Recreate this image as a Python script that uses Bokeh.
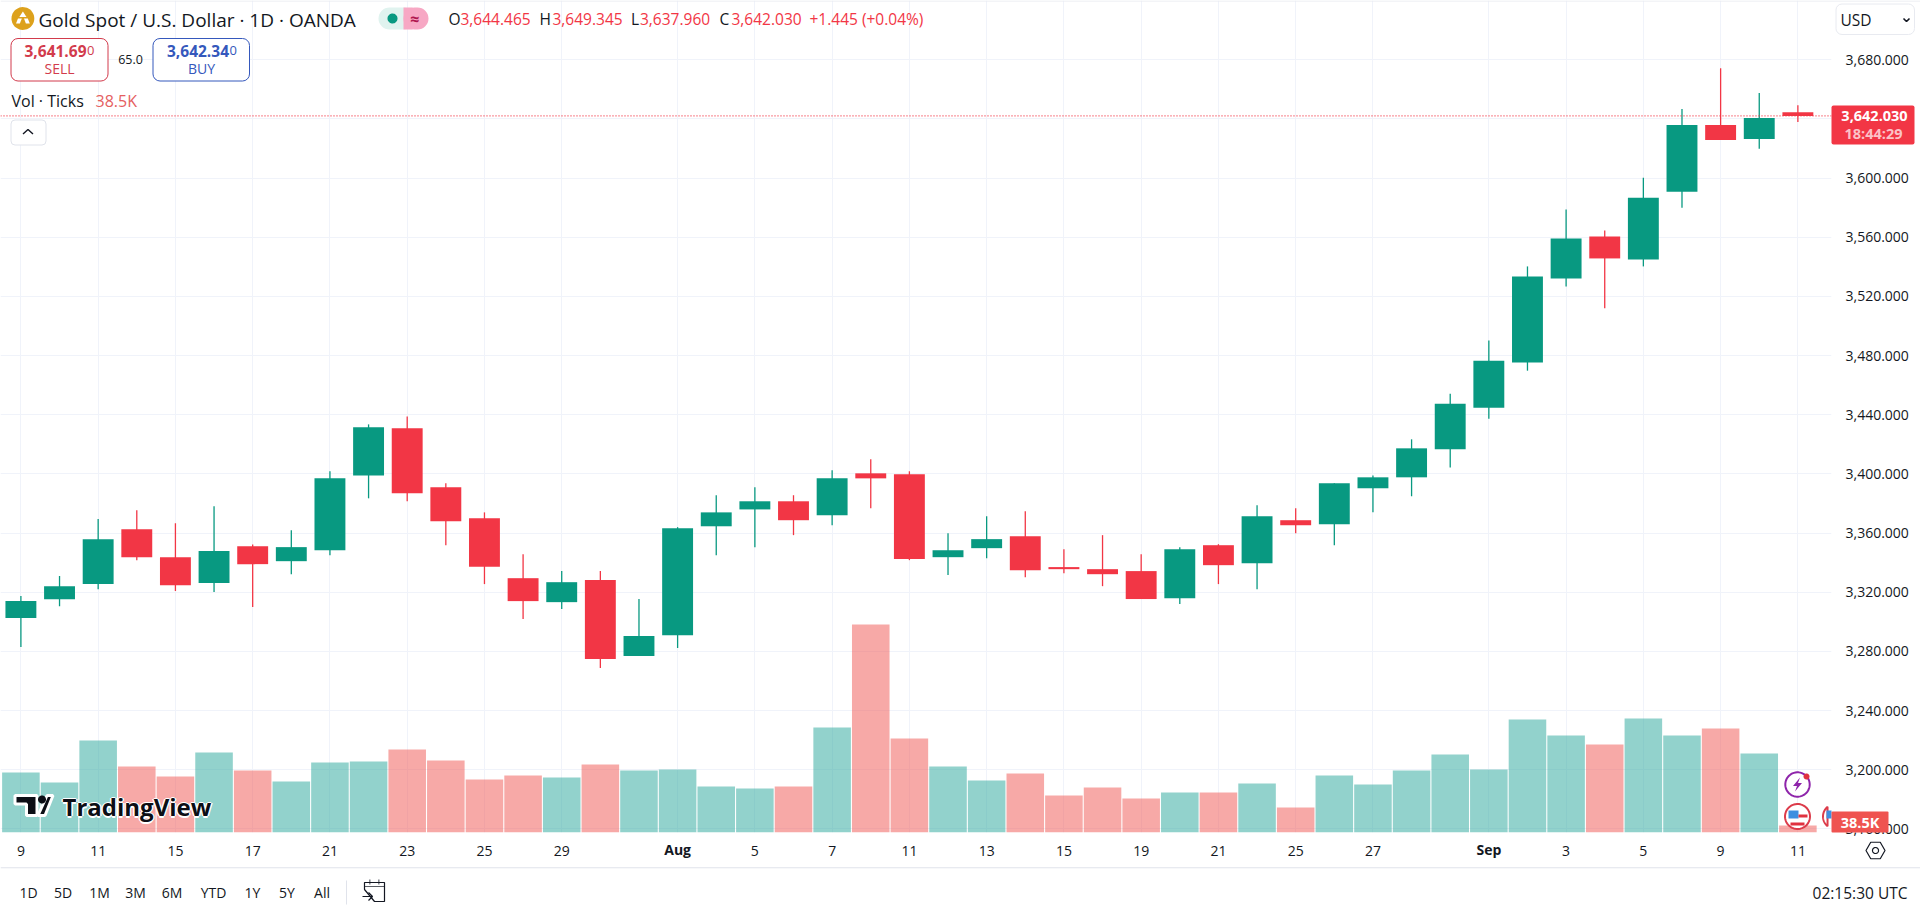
import numpy as np
from bokeh.embed import file_html
from bokeh.resources import INLINE
from bokeh.plotting import figure
from bokeh.layouts import column
from bokeh.models import (ColumnDataSource, Range1d, FixedTicker, NumeralTickFormatter,
                          Span, Label, BoxAnnotation, PolyAnnotation)

# ---------- data ----------
opens = [3302.5,3315.3,3325.5,3362.6,3343.7,3326.2,3351.1,3341.0,3348.4,3399.0,3430.8,3391.0,3370.0,3329.5,3313.3,3328.2,
         3276.9,3291.0,3364.6,3376.0,3381.5,3372.0,3400.4,3399.7,3343.7,3349.8,3357.9,3337.0,3335.6,3334.3,3316.0,3351.8,
         3339.6,3368.7,3366.0,3390.3,3397.7,3416.6,3444.7,3475.3,3532.2,3560.5,3545.0,3590.8,3635.9,3626.5,3644.465]
highs = [3317.4,3330.9,3369.6,3375.4,3366.6,3378.1,3352.3,3361.9,3401.8,3433.5,3438.9,3393.7,3374.0,3345.7,3334.3,3334.3,
         3315.4,3364.0,3385.6,3391.0,3385.6,3402.4,3409.9,3401.8,3359.9,3371.4,3374.8,3349.1,3358.6,3345.7,3350.5,3352.5,
         3378.8,3376.8,3393.7,3399.0,3423.4,3454.2,3490.2,3540.3,3578.7,3564.5,3600.2,3646.7,3674.3,3657.5,3649.345]
lows = [3283.0,3310.6,3322.1,3341.7,3320.8,3320.1,3310.0,3332.2,3345.0,3383.5,3381.5,3351.8,3325.5,3301.9,3308.6,3268.8,
        3276.9,3282.3,3345.0,3350.4,3358.6,3365.3,3376.8,3341.7,3331.6,3343.0,3330.2,3332.9,3324.1,3315.4,3312.0,3325.5,
        3322.1,3359.9,3351.8,3374.0,3384.9,3404.4,3437.3,3469.8,3526.8,3512.0,3540.3,3580.0,3625.8,3619.8,3637.96]
closes = [3314.0,3324.1,3355.9,3343.7,3324.8,3347.8,3339.0,3350.5,3397.0,3431.5,3386.9,3368.0,3337.2,3314.0,3326.8,3274.9,
          3290.4,3363.3,3374.0,3381.5,3368.7,3397.0,3397.0,3342.4,3348.4,3355.9,3334.9,3335.6,3332.2,3315.4,3349.1,3338.3,
          3371.4,3365.3,3393.7,3397.7,3417.3,3447.5,3476.6,3533.5,3559.1,3545.7,3586.8,3635.9,3625.8,3640.6,3642.03]
volumes_k = [330,275,506,363,308,440,341,280.5,385,390.5,456.5,396,291.5,313.5,302.5,374,341,346.5,253,242,253,577.5,1144,517,
             363,286,324.5,203.5,247.5,187,220,220,269.5,137.5,313.5,264,341,429,346.5,621.5,533.5,484,627,533.5,572,434.5,38.5]
tick_index = [0,2,4,6,8,10,12,14,17,19,21,23,25,27,29,31,33,35,38,40,42,44,46]
tick_labels = ["9","11","15","17","21","23","25","29","Aug","5","7","11","13","15","19","21","25","27","Sep","3","5","9","11"]
price_ticks = list(range(3160, 3681, 40))
last_close = 3642.03

UP, DOWN = "#089981", "#F23645"
VOL_UP, VOL_DOWN = "#26A69A", "#EF5350"
FONT = "Open Sans"
INK = "#131722"

# ---------- geometry of the plot frame on the page ----------
W, H = 1920, 912
FX1, FY1 = 1831, 832
IDX0, STEP = 20.4, 38.63
P0, PX_PER_UNIT, Y3680 = 3680.0, 1.479, 59.3
KPX = 5.5

n = len(opens)
colors = [UP if c >= o else DOWN for o, c in zip(opens, closes)]
vol_colors = [VOL_UP if c >= o else VOL_DOWN for o, c in zip(opens, closes)]
src = ColumnDataSource(dict(i=list(range(n)), h=highs, l=lows, v=volumes_k, col=colors, vcol=vol_colors,
                            top=[max(a, b) for a, b in zip(opens, closes)],
                            bot=[min(a, b) for a, b in zip(opens, closes)]))

p = figure(width=W, height=H, frame_width=FX1, frame_height=FY1,
           x_range=Range1d(-IDX0 / STEP, (FX1 - IDX0) / STEP),
           y_range=Range1d(P0 - (FY1 - Y3680) / PX_PER_UNIT, P0 + Y3680 / PX_PER_UNIT),
           y_axis_location="right", output_backend="svg", toolbar_location=None, tools="",
           min_border_left=0, min_border_top=0, min_border_right=W - FX1, min_border_bottom=H - FY1,
           background_fill_color="white", border_fill_color="white")
p.outline_line_color = None
p.extra_y_ranges = {"vol": Range1d(0, FY1 * KPX)}

grid_col = "#F0F3FA"
p.xaxis.ticker = FixedTicker(ticks=tick_index)
p.xaxis.major_label_overrides = {i: ("" if t in ("Aug", "Sep") else t) for i, t in zip(tick_index, tick_labels)}
p.yaxis.ticker = FixedTicker(ticks=price_ticks)
p.yaxis.formatter = NumeralTickFormatter(format="0,0.000")
for ax in (p.xaxis[0], p.yaxis[0]):
    ax.axis_line_color = None
    ax.major_tick_line_color = None
    ax.minor_tick_line_color = None
    ax.major_label_text_font = FONT
    ax.major_label_text_font_size = "14px"
    ax.major_label_text_color = INK
p.yaxis.major_label_standoff = 8
p.xaxis.major_label_standoff = 7
p.xgrid.grid_line_color = grid_col
p.ygrid.grid_line_color = grid_col
p.xgrid.ticker = p.xaxis[0].ticker
p.ygrid.ticker = p.yaxis[0].ticker

p.vbar(x="i", top="v", bottom=0, width=0.972, fill_color="vcol", line_color=None, fill_alpha=0.5,
       y_range_name="vol", source=src)
p.segment(x0="i", y0="l", x1="i", y1="h", line_color="col", line_width=1.3, source=src)
p.vbar(x="i", top="top", bottom="bot", width=0.8, fill_color="col", line_color=None, source=src)
p.add_layout(Span(location=last_close, dimension="width", line_color=DOWN, line_dash="1 2", line_width=1.2))

# ---------- interface layer: a transparent figure over the chart, in page pixels ----------
ui = figure(width=W, height=H, frame_width=W, frame_height=H,
            x_range=Range1d(0, W), y_range=Range1d(H, 0), x_axis_type=None, y_axis_type=None,
            output_backend="svg", toolbar_location=None, tools="", min_border=0,
            background_fill_color=None, border_fill_color=None, margin=(-H, 0, 0, 0))
ui.outline_line_color = None
ui.grid.visible = False


def text(x, y, s, size=14, color=INK, align="left", bold=False):
    ui.add_layout(Label(x=x, y=y, text=s, text_font=FONT, text_font_size=f"{size}px", text_color=color,
                        text_align=align, text_baseline="middle",
                        text_font_style="bold" if bold else "normal"))


def box(x0, y0, x1, y1, fill=None, line=None, radius=0, lw=1):
    ui.add_layout(BoxAnnotation(left=x0, right=x1, top=y0, bottom=y1,
                                fill_color=fill, fill_alpha=1 if fill else 0,
                                line_color=line, line_alpha=1 if line else 0, line_width=lw,
                                border_radius=radius, editable=False))


def poly(pts, fill=None, line=None, lw=1):
    ui.add_layout(PolyAnnotation(xs=[a for a, _ in pts], ys=[b for _, b in pts],
                                 fill_color=fill, fill_alpha=1 if fill else 0,
                                 line_color=line, line_alpha=1 if line else 0, line_width=lw))


def circle(cx, cy, r, fill=None, line=None, lw=1, a0=0.0, a1=2 * np.pi):
    t = np.linspace(a0, a1, 48)
    poly([(cx + r * np.cos(v), cy + r * np.sin(v)) for v in t], fill, line, lw)


box(0, 0, W, 1, fill="#E8EAF0")

# header
circle(22.4, 18, 11.4, fill="#DDA11C")
poly([(22.4, 11), (26, 16.5), (18.8, 16.5)], fill="white")
poly([(17.5, 18), (21.3, 18), (19.4, 23), (15.5, 23)], fill="white")
poly([(23.5, 18), (27.3, 18), (29.3, 23), (25.4, 23)], fill="white")
text(38, 19, "Gold Spot / U.S. Dollar · 1D · OANDA", 19)

box(378, 7, 414, 29, fill="#E0F3EF", radius=11)
box(403, 7, 428, 29, fill="#F7A8C4", radius=11)
box(403, 7, 412, 29, fill="#F7A8C4")
circle(392, 18, 5, fill=UP)
text(414, 18, "≈", 16, "#B0174F", align="center", bold=True)

for x, s, c, in [(448, "O", INK), (460, "3,644.465", DOWN), (539, "H", INK), (552, "3,649.345", DOWN),
                 (630.5, "L", INK), (639.5, "3,637.960", DOWN), (719, "C", INK), (731, "3,642.030", DOWN),
                 (809, "+1.445 (+0.04%)", DOWN)]:
    text(x, 18.5, s, 15.5, c)

box(10.5, 38, 107.5, 80.5, fill="white", line="#D23B4C", radius=7)
text(24, 50, "3,641.69", 15.5, "#D23B4C", bold=True)
text(86.5, 50, "0", 13, "#D23B4C")
text(59, 68, "SELL", 14, "#D23B4C", align="center")
text(130, 59, "65.0", 12.5, INK, align="center")
box(152.5, 38, 249, 80.5, fill="white", line="#3558BC", radius=7)
text(166.5, 50, "3,642.34", 15.5, "#3558BC", bold=True)
text(229, 50, "0", 13, "#3558BC")
text(201, 68, "BUY", 14, "#3558BC", align="center")

text(11, 100.5, "Vol · Ticks", 16)
text(95, 100.5, "38.5K", 16, "#E5605F")

box(10.5, 119.5, 45.5, 144.5, fill="white", line="#E0E3EB", radius=4)
poly([(22.5, 133.5), (27.5, 129), (32.5, 133.5), (27.5, 129)], line=INK, lw=1.4)

# right side
box(1835.5, 3.5, 1914, 34, fill="white", line="#E8EAF0", radius=6)
text(1840, 19.5, "USD", 15.5)
poly([(1903, 18), (1906, 21), (1909, 18), (1906, 21)], line=INK, lw=1.6)

box(1831, 105, 1914, 144, fill=DOWN, radius=2)
text(1874, 115, "3,642.030", 14.5, "white", align="center", bold=True)
text(1873, 133, "18:44:29", 14.5, "#FBC2C7", align="center", bold=True)

# event icons
circle(1797, 784, 12.2, fill="white", line="#8E24AA", lw=2)
poly([(1799.5, 777), (1792.5, 785.5), (1796.5, 785.5), (1794.5, 791), (1801.5, 782.5), (1797.5, 782.5)], fill="#8E24AA")
circle(1806, 776, 3, fill="#E0313F")

circle(1797, 816, 12.5, fill="white", line="#DC3B4A", lw=2)
box(1788, 810, 1798, 818, fill="#3E8FE0")
box(1798, 814, 1807, 817, fill="#E0313F")
box(1790, 822, 1804, 825, fill="#E0313F")
circle(1835, 816, 12.5, fill="white", line="#DC3B4A", lw=2, a0=np.pi * 0.72, a1=np.pi * 1.28)
box(1826, 810, 1831, 818, fill="#3E8FE0")

box(1831, 811, 1888, 832, fill="#EF5350", radius=1)
text(1859.5, 821.5, "38.5K", 14.5, "white", align="center", bold=True)

# watermark
logo_t = [(14.5, 795), (36.5, 795), (36.5, 815), (26, 815), (26, 803.5), (14.5, 803.5)]
logo_s = [(46.5, 795), (52.5, 795), (44.5, 815), (37.5, 815)]
poly(logo_t, fill="#0C0E15", line="white", lw=3)
poly(logo_s, fill="#0C0E15", line="white", lw=3)
circle(41.5, 799, 4, fill="#0C0E15")
for dx, dy in [(-1.5, 0), (1.5, 0), (0, -1.5), (0, 1.5)]:
    text(62 + dx, 806 + dy, "TradingView", 24, "white", bold=True)
text(62, 806, "TradingView", 24, "#0C0E15", bold=True)

# month labels on the time axis
for i, s in zip(tick_index, tick_labels):
    if s in ("Aug", "Sep"):
        text(IDX0 + i * STEP, 849, s, 14, align="center", bold=True)

# settings hexagon
t = np.linspace(0, 2 * np.pi, 7)
poly([(1875 + 9.5 * np.cos(v), 850 + 9.5 * np.sin(v)) for v in t], line=INK, lw=1.2)
circle(1875, 850, 3, line=INK, lw=1.2)

# bottom bar
box(0, 866.8, W, 867.8, fill="#E0E3EB")
for x, s in [(28, "1D"), (62.5, "5D"), (99, "1M"), (135, "3M"), (171.5, "6M"), (213, "YTD"), (252, "1Y"), (286.5, "5Y"), (321.5, "All")]:
    text(x, 892, s, 14, align="center")
box(345.5, 880, 346.5, 904, fill="#E0E3EB")
poly([(364, 889), (364, 882), (384, 882), (384, 901), (374, 901)], line=INK, lw=1.2)
box(364, 885.5, 384, 886.2, fill=INK)
box(369, 879, 369.8, 884, fill=INK)
box(378, 879, 378.8, 884, fill=INK)
poly([(362, 896), (372, 896), (368, 892), (372, 896), (368, 900), (372, 896)], line=INK, lw=1.2)
text(1907, 892, "02:15:30 UTC", 15.5, align="right")

open("out.html", "w").write(file_html(column(p, ui, spacing=0), INLINE))
